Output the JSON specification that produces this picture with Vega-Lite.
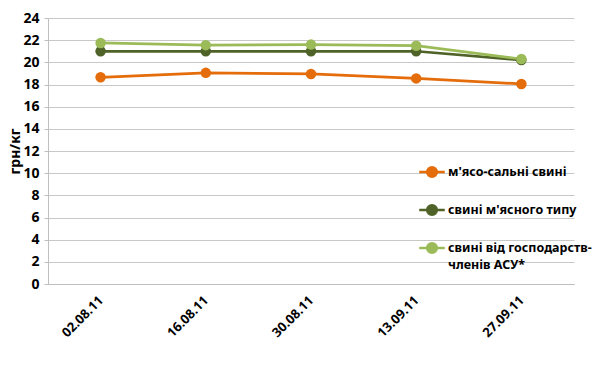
{
  "$schema": "https://vega.github.io/schema/vega-lite/v6.json",
  "width": 526,
  "height": 266,
  "autosize": {"type": "none"},
  "padding": {"left": 48, "top": 18, "right": 26, "bottom": 81},
  "background": "white",
  "config": {
    "font": "Noto Sans",
    "view": {"stroke": null},
    "axis": {"labelFont": "Noto Sans", "labelFontWeight": "bold", "labelColor": "#000", "titleColor": "#000"}
  },
  "data": {
    "values": [
      {"date": "02.08.11", "series": "м'ясо-сальні свині", "value": 18.65},
      {"date": "16.08.11", "series": "м'ясо-сальні свині", "value": 19.05},
      {"date": "30.08.11", "series": "м'ясо-сальні свині", "value": 18.95},
      {"date": "13.09.11", "series": "м'ясо-сальні свині", "value": 18.55},
      {"date": "27.09.11", "series": "м'ясо-сальні свині", "value": 18.05},
      {"date": "02.08.11", "series": "свині м'ясного типу", "value": 21.0},
      {"date": "16.08.11", "series": "свині м'ясного типу", "value": 21.0},
      {"date": "30.08.11", "series": "свині м'ясного типу", "value": 21.0},
      {"date": "13.09.11", "series": "свині м'ясного типу", "value": 21.0},
      {"date": "27.09.11", "series": "свині м'ясного типу", "value": 20.2},
      {"date": "02.08.11", "series": "свині від господарств-членів АСУ*", "value": 21.75},
      {"date": "16.08.11", "series": "свині від господарств-членів АСУ*", "value": 21.55},
      {"date": "30.08.11", "series": "свині від господарств-членів АСУ*", "value": 21.6},
      {"date": "13.09.11", "series": "свині від господарств-членів АСУ*", "value": 21.5},
      {"date": "27.09.11", "series": "свині від господарств-членів АСУ*", "value": 20.3}
    ]
  },
  "mark": {"type": "line", "strokeWidth": 2.75, "point": {"filled": true, "size": 110, "opacity": 1}},
  "encoding": {
    "x": {
      "field": "date", "type": "ordinal", "sort": null,
      "scale": {"type": "point", "padding": 0.5},
      "axis": {"title": null, "labelAngle": -45, "labelAlign": "right", "labelBaseline": "middle", "labelFontSize": 13, "labelPadding": 14, "ticks": false, "domainColor": "#bfbfbf", "grid": false}
    },
    "y": {
      "field": "value", "type": "quantitative",
      "scale": {"domain": [0, 24], "nice": false},
      "axis": {"title": "грн/кг", "titleFontSize": 14, "titleFontWeight": "bold", "titlePadding": 0, "values": [0, 2, 4, 6, 8, 10, 12, 14, 16, 18, 20, 22, 24], "labelFontSize": 14, "tickSize": 4, "tickColor": "#bfbfbf", "domainColor": "#bfbfbf", "gridColor": "#c8c8c8", "labelPadding": 5}
    },
    "color": {
      "field": "series", "type": "nominal",
      "scale": {"domain": ["м'ясо-сальні свині", "свині м'ясного типу", "свині від господарств-членів АСУ*"], "range": ["#E46C0A", "#4F6228", "#9BBB59"]},
      "legend": {
        "title": null, "orient": "none", "legendX": 370, "legendY": 140,
        "labelFontSize": 12.5, "labelFontWeight": "bold", "labelColor": "#000", "labelLimit": 300,
        "rowPadding": 14, "labelOffset": 2,
        "symbolType": "M-1,0L1,0M-0.38,0A0.38,0.38 0 1,1 0.38,0A0.38,0.38 0 1,1 -0.38,0Z",
        "symbolSize": 650, "symbolStrokeWidth": 2.5,
        "labelExpr": "datum.label == 'свині від господарств-членів АСУ*' ? ['свині від господарств-', 'членів АСУ*'] : datum.label",
        "encode": {
          "symbols": {"update": {"fill": {"scale": "color", "field": "value"}, "stroke": {"scale": "color", "field": "value"}, "opacity": {"value": 1}}},
          "labels": {"update": {"lineHeight": {"value": 17}}}
        }
      }
    }
  }
}
